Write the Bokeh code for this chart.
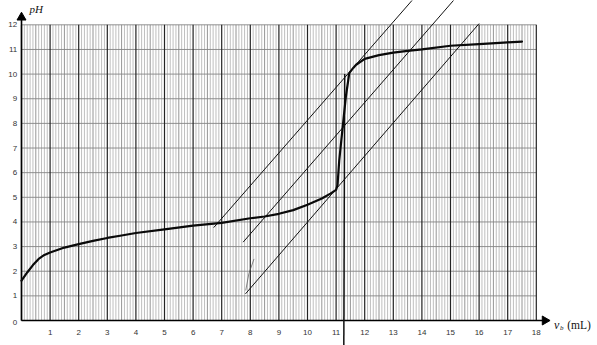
import numpy as np
from bokeh.plotting import figure
from bokeh.models import Range1d
from bokeh.core.properties import value
from bokeh.embed import file_html
from bokeh.resources import INLINE

# ---- data ----
vb = [0, 0.2, 0.4, 0.6, 0.8, 1.0, 1.5, 2, 2.5, 3, 3.5, 4, 5, 6, 7, 8, 8.5, 9, 9.5,
      10, 10.5, 10.8, 11.0, 11.05, 11.11, 11.23, 11.34, 11.46, 11.6, 11.7, 12.0,
      12.5, 13, 13.5, 14, 15, 16, 17, 17.5]
ph = [1.62, 1.95, 2.25, 2.5, 2.66, 2.76, 2.96, 3.1, 3.23, 3.35, 3.45, 3.55, 3.7,
      3.85, 3.96, 4.15, 4.22, 4.33, 4.48, 4.7, 4.95, 5.15, 5.3, 5.5, 6.5, 7.85,
      9.07, 10.04, 10.25, 10.38, 10.62, 10.77, 10.87, 10.94, 11.0, 11.15, 11.22,
      11.29, 11.32]

# three parallel tangent lines (start, end)
tan_x = [[6.72, 13.70], [7.75, 15.15], [7.83, 16.00]]
tan_y = [[3.77, 13.05], [3.18, 13.05], [1.08, 12.05]]

# vertical line at equivalence volume
veq_x = [11.30, 11.27]
veq_y = [10.0, -1.05]

# small pencil stroke
stroke_x = [7.84, 7.95, 8.13]
stroke_y = [1.22, 1.9, 2.5]

x_ticks = list(range(1, 19))
x_tick_labels = [str(v) for v in x_ticks]
y_ticks = list(range(1, 13))
y_tick_labels = [str(v) for v in y_ticks]

X_MAX = 18
Y_MAX = 12

# ---- figure (frame = whole canvas) ----
W, H = 597, 345
PX_X, X0 = 28.6, 21.0   # px per mL, px of x=0
PX_Y, Y0 = 24.64, 320.0  # px per pH, px of pH=0

p = figure(width=W, height=H, output_backend="svg", toolbar_location=None,
           x_axis_type=None, y_axis_type=None, min_border=0,
           x_range=Range1d(-X0 / PX_X, (W - X0) / PX_X),
           y_range=Range1d(-(H - Y0) / PX_Y, Y0 / PX_Y))
p.outline_line_color = None
p.grid.visible = False
p.background_fill_color = "white"
p.border_fill_color = "white"

# ---- graph paper ----
minor = [v / 10 for v in range(0, X_MAX * 10 + 1) if v % 10 != 0 and v % 5 != 0]
half = [v / 10 for v in range(5, X_MAX * 10, 10)]
major = list(range(0, X_MAX + 1))
p.segment(x0=minor, y0=0, x1=minor, y1=Y_MAX, line_color="#a3a3a3", line_width=0.7)
p.segment(x0=half, y0=0, x1=half, y1=Y_MAX, line_color="#7a7a7a", line_width=0.8)
hlines = list(range(0, Y_MAX + 1))
p.segment(x0=0, y0=hlines, x1=X_MAX, y1=hlines, line_color="#858585", line_width=0.9)
p.segment(x0=major, y0=0, x1=major, y1=Y_MAX, line_color="#222222", line_width=1.2)

# ---- axes with arrows ----
p.line([0, 18.35], [0, 0], line_color="black", line_width=1.6)
p.line([0, 0], [0, 12.4], line_color="black", line_width=1.6)
p.scatter([18.3], [0], marker="triangle", size=9, angle=-np.pi / 2,
          fill_color="black", line_color="black")
p.scatter([0], [12.3], marker="triangle", size=9,
          fill_color="black", line_color="black")

# ---- tick labels ----
font = value("Liberation Sans")
p.text(x=-0.15, y=y_ticks, text=y_tick_labels, text_font=font, text_font_size="8px",
       text_align="right", text_baseline="middle", text_color="#333")
p.text(x=x_ticks, y=-0.5, text=x_tick_labels, text_font=font, text_font_size="8px",
       text_align="center", text_baseline="middle", text_color="#333")
p.text(x=[-0.15], y=[-0.08], text=["0"], text_font=font, text_font_size="8px",
       text_align="right", text_baseline="middle", text_color="#333")

# ---- axis titles ----
serif = value("Liberation Serif")
p.text(x=[0.28], y=[12.64], text=["pH"], text_font=serif, text_font_style="italic",
       text_font_size="11px", text_baseline="alphabetic", text_color="#111")
p.text(x=[18.62], y=[-0.2], text=["v"], text_font=serif, text_font_style="italic",
       text_font_size="12px", text_baseline="alphabetic", text_color="#111")
p.text(x=[18.83], y=[-0.3], text=["b"], text_font=serif, text_font_style="italic",
       text_font_size="7px", text_baseline="alphabetic", text_color="#111")
p.text(x=[19.08], y=[-0.2], text=["(mL)"], text_font=serif,
       text_font_size="11.5px", text_baseline="alphabetic", text_color="#111")

# ---- construction lines ----
p.multi_line(xs=tan_x, ys=tan_y, line_color="#111", line_width=1.0)
p.line(veq_x, veq_y, line_color="#111", line_width=1.5)
p.line(stroke_x, stroke_y, line_color="#555", line_width=0.7)

# ---- titration curve ----
p.line(vb, ph, line_color="#0a0a0a", line_width=2.2, line_join="round", line_cap="round")

open("out.html", "w").write(file_html(p, INLINE))
